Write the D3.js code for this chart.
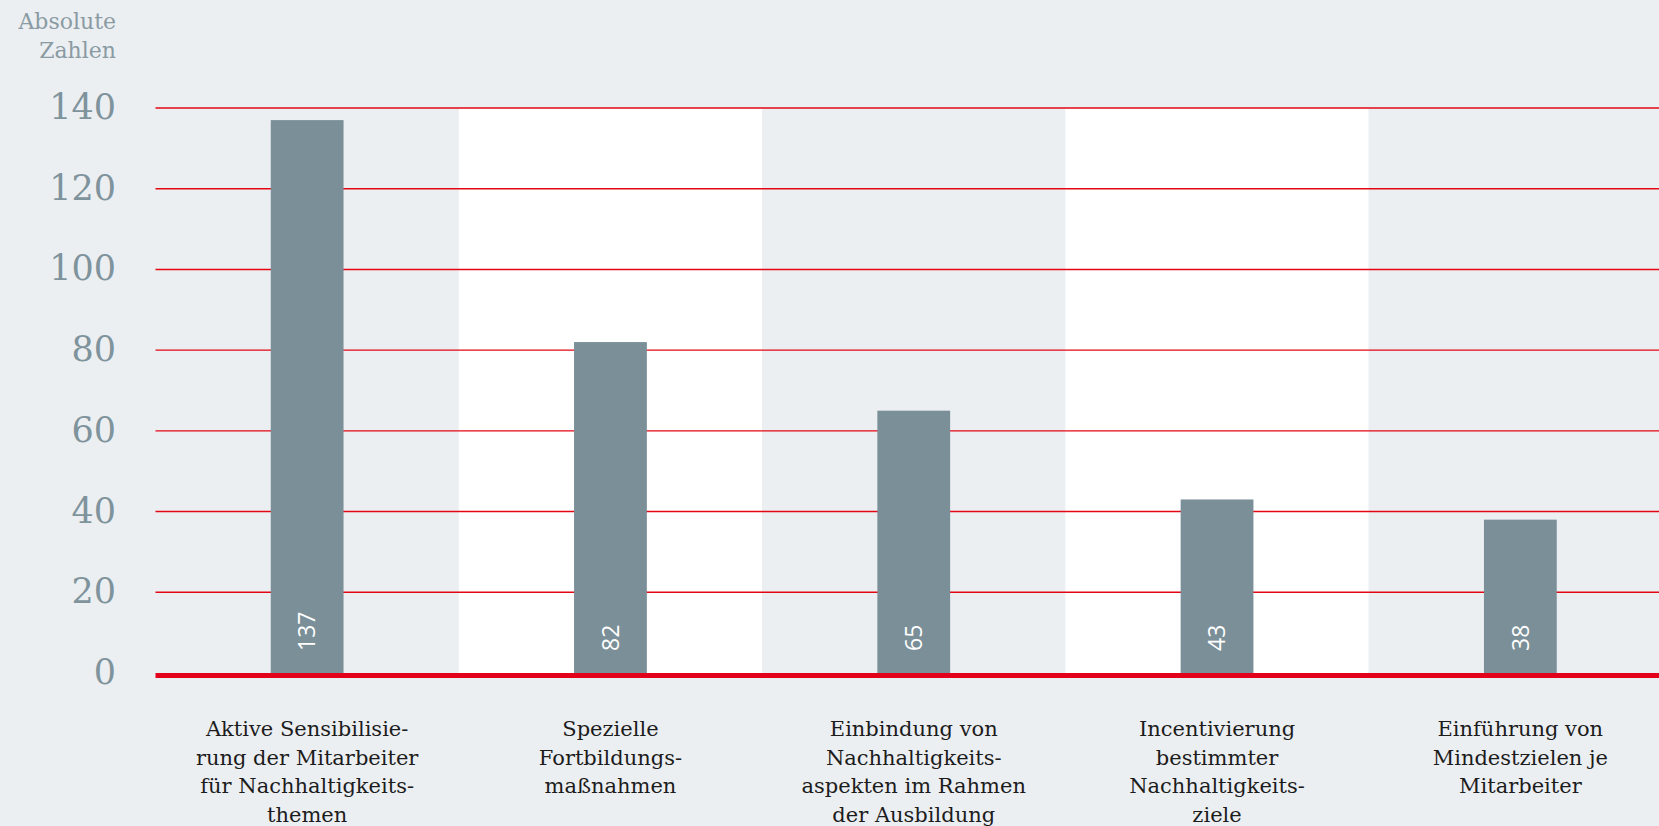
<!DOCTYPE html>
<html>
<head>
<meta charset="utf-8">
<script src="https://cdn.jsdelivr.net/npm/d3@7"></script>
<style>
	body { margin: 0; background: #eceff2; }
	svg { display: block; }
</style>
</head>
<body>
<svg></svg>
<script>
// data
const categories = [
	["Aktive Sensibilisie-", "rung der Mitarbeiter", "für Nachhaltigkeits-", "themen"],
	["Spezielle", "Fortbildungs-", "maßnahmen"],
	["Einbindung von", "Nachhaltigkeits-", "aspekten im Rahmen", "der Ausbildung"],
	["Incentivierung", "bestimmter", "Nachhaltigkeits-", "ziele"],
	["Einführung von", "Mindestzielen je", "Mitarbeiter"]
];
const values = [137, 82, 65, 43, 38];
const yTicks = [0, 20, 40, 60, 80, 100, 120, 140];
const axisTitle = ["Absolute", "Zahlen"];

const width = 1659;
const height = 826;

const svg = d3.select("svg")
	.attr("width", width)
	.attr("height", height);

const x = d3.scaleBand()
	.domain(d3.range(values.length))
	.range([155.5, 1672]);

const y = d3.scaleLinear()
	.domain([0, 140])
	.range([673, 108]);

const barW = x.bandwidth() * 0.24;

// alternating stripes
svg.append("g")
	.selectAll("rect")
	.data(values)
	.enter().append("rect")
	.attr("x", (d, i) => x(i))
	.attr("y", y(140))
	.attr("width", x.bandwidth())
	.attr("height", y(0) - y(140))
	.attr("fill", (d, i) => i % 2 ? "#ffffff" : "#eceff2");

// grid lines
svg.append("g")
	.selectAll("line")
	.data(yTicks.filter(d => d > 0))
	.enter().append("line")
	.attr("x1", 155.5)
	.attr("x2", width)
	.attr("y1", d => y(d))
	.attr("y2", d => y(d))
	.attr("stroke", "#e30613")
	.attr("stroke-width", 1.4);

// tick labels
svg.append("g")
	.selectAll("text")
	.data(yTicks)
	.enter().append("text")
	.attr("x", 116)
	.attr("y", d => y(d) + 11)
	.attr("text-anchor", "end")
	.attr("font-family", "DejaVu Serif")
	.attr("font-size", 35)
	.attr("fill", "#7f939c")
	.text(d => d);

svg.append("text")
	.attr("text-anchor", "end")
	.attr("font-family", "DejaVu Serif")
	.attr("font-size", 22)
	.attr("fill", "#8a9ba3")
	.selectAll("tspan")
	.data(axisTitle)
	.enter().append("tspan")
	.attr("x", 116)
	.attr("y", (d, i) => 29 + i * 29)
	.text(d => d);

// bars
svg.append("g")
	.selectAll("rect")
	.data(values)
	.enter().append("rect")
	.attr("x", (d, i) => x(i) + x.bandwidth() / 2 - barW / 2)
	.attr("y", d => y(d))
	.attr("width", barW)
	.attr("height", d => y(0) - y(d))
	.attr("fill", "#7b8f98");

// value labels
svg.append("g")
	.selectAll("text")
	.data(values)
	.enter().append("text")
	.attr("transform", (d, i) => `translate(${x(i) + x.bandwidth() / 2},${y(0) - 22}) rotate(-90)`)
	.attr("dy", "0.36em")
	.attr("font-family", "Open Sans")
	.attr("font-size", 23)
	.attr("fill", "#ffffff")
	.text(d => d);

// zero line
svg.append("line")
	.attr("x1", 155.5)
	.attr("x2", width)
	.attr("y1", y(0) + 2.5)
	.attr("y2", y(0) + 2.5)
	.attr("stroke", "#e2001a")
	.attr("stroke-width", 5);

// category labels
const cat = svg.append("g")
	.selectAll("text")
	.data(categories)
	.enter().append("text")
	.attr("text-anchor", "middle")
	.attr("font-family", "DejaVu Serif")
	.attr("font-size", 21)
	.attr("fill", "#1c1c1c");

cat.selectAll("tspan")
	.data((d, i) => d.map(t => ({ t, i })))
	.enter().append("tspan")
	.attr("x", d => x(d.i) + x.bandwidth() / 2)
	.attr("y", (d, j) => 736 + j * 28.5)
	.text(d => d.t);
</script>
</body>
</html>
